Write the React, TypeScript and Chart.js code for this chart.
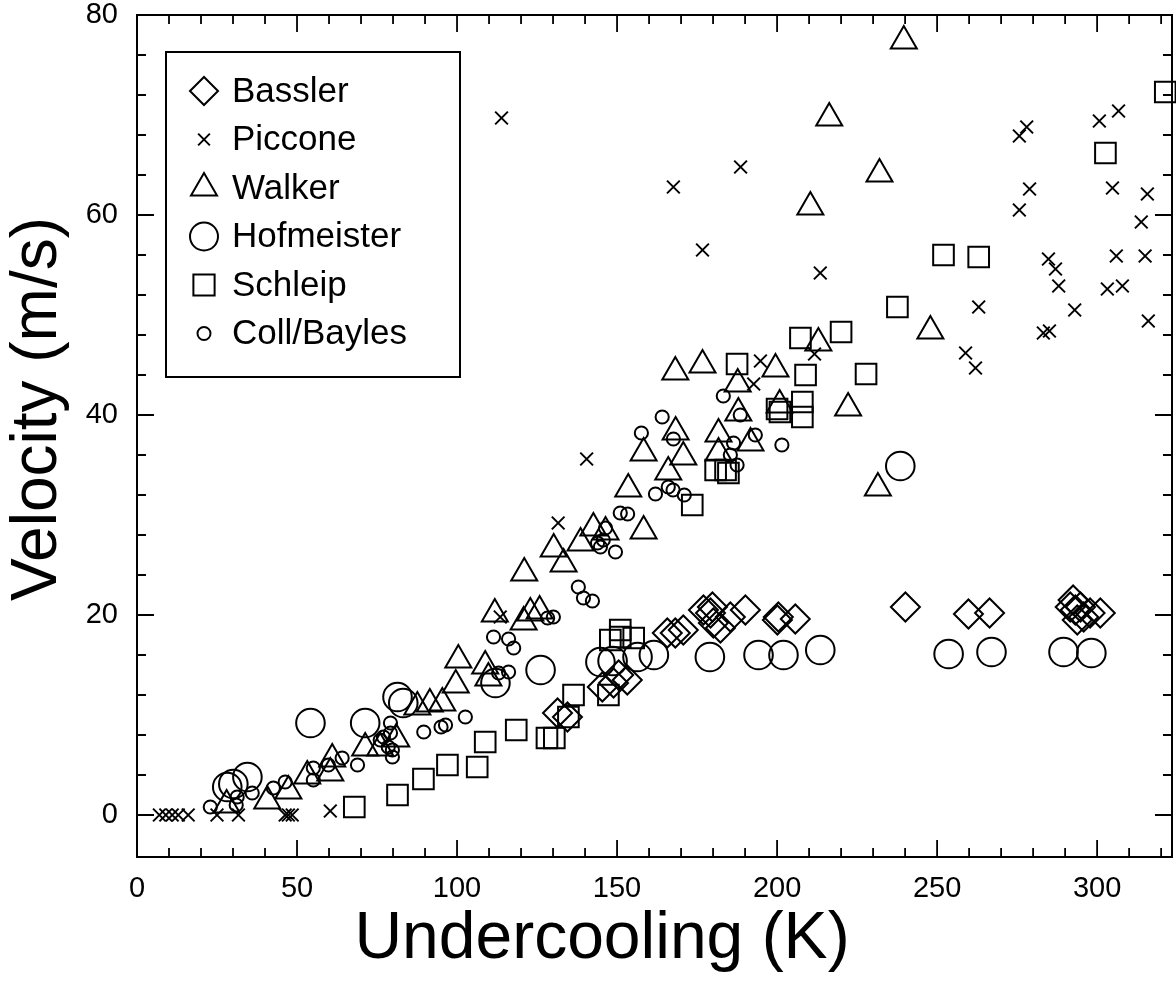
import React, { useEffect, useRef } from 'react';
import { Chart, registerables } from 'chart.js';

Chart.register(...registerables);

// ---------- DATA ----------
const SERIES_NAMES = ['Bassler', 'Piccone', 'Walker', 'Hofmeister', 'Schleip', 'Coll/Bayles'];

const BASSLER: [number, number][] = [
  [131.4, 10.2], [134.5, 9.8], [145.4, 12.8], [148.9, 13.2], [153.2, 13.5], [150.5, 14.0],
  [165.7, 18.2], [168.2, 18.2], [170.7, 18.5], [177.0, 20.5], [179.2, 20.2], [180.1, 19.2],
  [179.8, 20.8], [182.3, 18.7], [185.4, 19.8], [190.1, 20.5], [200.1, 19.5], [200.4, 19.8],
  [205.7, 19.6], [240.1, 20.8], [259.8, 20.1], [266.4, 20.2], [291.6, 20.8], [292.5, 21.5],
  [293.2, 20.5], [293.8, 19.5], [294.8, 20.8], [295.8, 19.8], [297.8, 20.2], [301.0, 20.2],
];

const PICCONE: [number, number][] = [
  [7, 0], [9, 0], [11, 0], [12.9, 0], [16, 0], [25, 0], [31.7, 0], [46.3, 0], [47.3, 0], [48.5, 0], [60.4, 0.4],
  [113.5, 19.8], [131.6, 29.2], [140.5, 35.6], [113.9, 69.7], [167.6, 62.8], [176.7, 56.5], [188.6, 64.8],
  [192.7, 43.1], [194.8, 45.4], [211.7, 46.1], [213.5, 54.2], [258.9, 46.2], [262.0, 44.7], [263.0, 50.8],
  [275.7, 60.5], [275.7, 67.9], [278.0, 68.8], [278.9, 62.6], [283.2, 48.2], [285.1, 48.4], [284.8, 55.6],
  [287.0, 54.6], [288.0, 52.9], [293.0, 50.5], [300.7, 69.4], [306.7, 70.4], [304.8, 62.7], [303.2, 52.6],
  [306.0, 55.9], [307.9, 52.9], [313.8, 59.3], [315.7, 62.1], [315.0, 55.9], [316.0, 49.4],
];

const WALKER: [number, number][] = [
  [28.0, 1.0], [40.7, 1.4], [47.3, 2.4], [53.2, 3.9], [60.4, 4.2], [61.0, 5.6], [71.3, 6.7], [76.0, 6.7],
  [81.0, 7.6], [87.6, 10.8], [91.5, 11.1], [95.4, 11.2], [99.6, 13.0], [100.4, 15.5], [108.8, 14.9],
  [109.8, 13.7], [111.8, 20.1], [120.8, 19.3], [122.9, 20.2], [125.8, 20.4], [121.0, 24.2], [130.2, 26.6],
  [133.3, 25.1], [138.6, 27.2], [142.6, 28.7], [146.4, 28.3], [153.5, 32.6], [158.3, 28.4], [158.3, 36.2],
  [166.0, 34.3], [168.3, 38.3], [168.2, 44.3], [170.7, 35.8], [176.7, 45.0], [181.7, 38.1], [181.7, 36.2],
  [187.7, 43.1], [187.9, 40.2], [191.7, 37.2], [199.5, 44.6], [200.8, 41.0], [210.4, 60.8], [212.9, 47.2],
  [216.3, 69.7], [222.2, 40.7], [231.5, 32.7], [232.0, 64.1], [239.6, 77.4], [247.9, 48.4],
];

const HOFMEISTER: [number, number][] = [
  [28.2, 2.8], [30.1, 3.1], [34.5, 3.8], [54.2, 9.2], [71.3, 9.2], [81.4, 11.8], [83.2, 11.2],
  [112.0, 13.2], [126.1, 14.5], [144.8, 15.3], [148.6, 15.4], [156.4, 15.8], [161.5, 16.0],
  [179.0, 15.8], [194.2, 16.0], [202.0, 16.0], [213.5, 16.5], [238.5, 34.9], [253.6, 16.1],
  [267.0, 16.3], [289.5, 16.3], [298.2, 16.2],
];

const SCHLEIP: [number, number][] = [
  [67.9, 0.8], [81.4, 2.0], [89.5, 3.6], [97.0, 5.0], [106.3, 4.8], [108.8, 7.3], [118.5, 8.5],
  [128.1, 7.7], [130.4, 7.7], [134.8, 9.8], [136.4, 12.0], [147.3, 12.0], [147.9, 17.5], [151.0, 18.5],
  [151.0, 17.8], [155.2, 17.7], [173.5, 31.0], [180.8, 34.5], [183.9, 34.5], [184.8, 34.2], [187.5, 45.1],
  [200.0, 40.6], [200.9, 40.3], [207.9, 41.3], [207.9, 39.8], [207.3, 47.7], [208.9, 44.0], [220.0, 48.3],
  [227.8, 44.1], [237.6, 50.8], [252.0, 56.0], [263.0, 55.8], [302.6, 66.2], [321.3, 72.3],
];

const COLL_BAYLES: [number, number][] = [
  [22.9, 0.8], [31.3, 1.8], [31.0, 1.0], [36.0, 2.2], [42.6, 2.7], [46.3, 3.3], [55.1, 3.5], [55.1, 4.7],
  [59.8, 5.0], [64.1, 5.7], [68.9, 5.0], [76.0, 7.5], [77.0, 7.8], [78.5, 6.8], [79.2, 9.2], [79.2, 8.2],
  [79.8, 6.5], [79.8, 5.8], [89.6, 8.3], [95.0, 8.8], [96.4, 9.0], [102.6, 9.8], [111.4, 17.8],
  [116.1, 17.6], [117.7, 16.7], [113.0, 14.2], [116.1, 14.3], [128.3, 19.7], [130.1, 19.8], [137.9, 22.8],
  [139.5, 21.7], [142.3, 21.4], [143.9, 27.2], [145.7, 27.5], [146.4, 28.7], [144.8, 26.8], [149.5, 26.3],
  [151.0, 30.2], [153.3, 30.1], [157.6, 38.2], [164.1, 39.8], [167.6, 37.6], [162.0, 32.1], [166.0, 32.8],
  [167.5, 32.5], [171.0, 32.0], [183.2, 41.9], [188.5, 40.0], [186.4, 37.2], [193.2, 38.0], [185.4, 36.0],
  [187.5, 35.0], [201.5, 37.0],
];

const X_TICK_LABELS = [0, 50, 100, 150, 200, 250, 300];
const Y_TICK_LABELS = [0, 20, 40, 60, 80];
const X_TITLE = 'Undercooling (K)';
const Y_TITLE = 'Velocity (m/s)';

// ---------- STYLE ----------
const FONT = '"Liberation Sans", Arial, Helvetica, sans-serif';
const STYLES = ['rectRot', 'crossRot', 'triangle', 'circle', 'rect', 'circle'];
const RADII = [14.5, 9, 15, 14.3, 14.6, 6.6];
const LEGEND_RADII = [14, 8.3, 15, 14, 15, 6.5];

function drawMarker(ctx: CanvasRenderingContext2D, style: string, x: number, y: number, r: number) {
  ctx.beginPath();
  if (style === 'circle') {
    ctx.arc(x, y, r, 0, Math.PI * 2);
  } else if (style === 'rectRot') {
    ctx.moveTo(x - r, y);
    ctx.lineTo(x, y - r);
    ctx.lineTo(x + r, y);
    ctx.lineTo(x, y + r);
    ctx.closePath();
  } else if (style === 'rect') {
    const s = r * Math.SQRT1_2;
    ctx.rect(x - s, y - s, 2 * s, 2 * s);
  } else if (style === 'triangle') {
    const h = Math.sin(Math.PI / 3) * r;
    ctx.moveTo(x, y - r);
    ctx.lineTo(x + h, y + r / 2);
    ctx.lineTo(x - h, y + r / 2);
    ctx.closePath();
  } else if (style === 'crossRot') {
    const d = r * Math.SQRT1_2;
    ctx.moveTo(x - d, y - d);
    ctx.lineTo(x + d, y + d);
    ctx.moveTo(x - d, y + d);
    ctx.lineTo(x + d, y - d);
  }
  ctx.stroke();
}

const frameTicksPlugin = {
  id: 'frameTicks',
  afterDatasetsDraw(chart: any) {
    const { ctx, chartArea: a, scales } = chart;
    const xs = scales.x;
    const ys = scales.y;
    ctx.save();
    ctx.strokeStyle = '#000';
    ctx.lineWidth = 2;
    ctx.strokeRect(a.left, a.top, a.right - a.left, a.bottom - a.top);
    ctx.lineWidth = 1.8;
    ctx.beginPath();
    for (let v = 0; v <= 320; v += 10) {
      const p = xs.getPixelForValue(v);
      const len = v % 50 === 0 ? 17 : 9;
      ctx.moveTo(p, a.bottom);
      ctx.lineTo(p, a.bottom - len);
      ctx.moveTo(p, a.top);
      ctx.lineTo(p, a.top + len);
    }
    for (let v = 0; v < 80; v += 4) {
      const p = ys.getPixelForValue(v);
      const len = v % 20 === 0 ? 17 : 9;
      ctx.moveTo(a.left, p);
      ctx.lineTo(a.left + len, p);
      ctx.moveTo(a.right, p);
      ctx.lineTo(a.right - len, p);
    }
    ctx.stroke();
    ctx.restore();
  },
};

const legendBoxPlugin = {
  id: 'legendBox',
  afterDatasetsDraw(chart: any) {
    const { ctx, chartArea: a } = chart;
    const left = a.left + 29;
    const top = a.top + 37;
    const w = 294;
    const h = 325;
    ctx.save();
    ctx.fillStyle = '#fff';
    ctx.fillRect(left, top, w, h);
    ctx.strokeStyle = '#000';
    ctx.lineWidth = 2;
    ctx.strokeRect(left, top, w, h);
    ctx.fillStyle = '#000';
    ctx.font = `35px ${FONT}`;
    ctx.textBaseline = 'middle';
    ctx.textAlign = 'left';
    chart.data.datasets.forEach((ds: any, i: number) => {
      const cy = top + 39 + i * 48.5;
      ctx.lineWidth = 2;
      drawMarker(ctx, STYLES[i], left + 38, cy, LEGEND_RADII[i]);
      ctx.fillText(ds.label, left + 66, cy + 1);
    });
    ctx.restore();
  },
};

const axisTitlesPlugin = {
  id: 'axisTitles',
  afterDraw(chart: any) {
    const { ctx, chartArea: a } = chart;
    ctx.save();
    ctx.fillStyle = '#000';
    ctx.textAlign = 'center';
    ctx.textBaseline = 'middle';
    ctx.font = `66px ${FONT}`;
    ctx.fillText(X_TITLE, a.left + 465, a.bottom + 83);
    ctx.translate(38, a.top + 394);
    ctx.rotate(-Math.PI / 2);
    ctx.font = `64px ${FONT}`;
    ctx.fillText(Y_TITLE, 0, 0);
    ctx.restore();
  },
};

const SERIES_DATA = [BASSLER, PICCONE, WALKER, HOFMEISTER, SCHLEIP, COLL_BAYLES];

export default function App() {
  const canvasRef = useRef<HTMLCanvasElement | null>(null);

  useEffect(() => {
    const canvas = canvasRef.current;
    if (!canvas) return;
    const datasets = SERIES_NAMES.map((name, i) => ({
      label: name,
      data: SERIES_DATA[i].map(([x, y]) => ({ x, y })),
      pointStyle: STYLES[i] as any,
      pointRadius: RADII[i],
      pointBorderWidth: 2,
      pointBorderColor: '#000',
      pointBackgroundColor: 'rgba(0,0,0,0)',
      borderColor: '#000',
      backgroundColor: 'rgba(0,0,0,0)',
      showLine: false,
      clip: false as any,
    }));

    const zeroPad = (s: any) => {
      s.paddingTop = 0;
      s.paddingBottom = 0;
      s.paddingLeft = 0;
      s.paddingRight = 0;
    };

    const chart = new Chart(canvas, {
      type: 'scatter',
      data: { datasets },
      options: {
        animation: false,
        responsive: false,
        events: [],
        layout: { autoPadding: false, padding: { top: 15, right: 4, left: 0, bottom: 0 } },
        plugins: { legend: { display: false }, tooltip: { enabled: false } },
        scales: {
          x: {
            type: 'linear',
            min: 0,
            max: 323.4,
            grid: { display: false, drawTicks: false },
            border: { display: false },
            afterBuildTicks: (s: any) => {
              s.ticks = X_TICK_LABELS.map((v) => ({ value: v }));
            },
            afterFit: (s: any) => {
              s.height = 124;
              zeroPad(s);
            },
            ticks: {
              color: '#000',
              padding: 15,
              maxRotation: 0,
              autoSkip: false,
              font: { family: FONT, size: 29 },
              callback: (v: any) => String(v),
            },
            title: { display: false, text: X_TITLE },
          },
          y: {
            type: 'linear',
            min: -4.2,
            max: 80,
            grid: { display: false, drawTicks: false },
            border: { display: false },
            afterBuildTicks: (s: any) => {
              s.ticks = Y_TICK_LABELS.map((v) => ({ value: v }));
            },
            afterFit: (s: any) => {
              s.width = 137;
              zeroPad(s);
            },
            ticks: {
              color: '#000',
              padding: 19,
              autoSkip: false,
              font: { family: FONT, size: 29 },
              callback: (v: any) => String(v),
            },
            title: { display: false, text: Y_TITLE },
          },
        },
      },
      plugins: [frameTicksPlugin, legendBoxPlugin, axisTitlesPlugin],
    });
    return () => chart.destroy();
  }, []);

  return (
    <div style={{ position: 'fixed', left: 0, top: 0, width: 1176, height: 981, background: '#fff' }}>
      <canvas ref={canvasRef} width={1176} height={981} style={{ display: 'block' }} />
    </div>
  );
}
